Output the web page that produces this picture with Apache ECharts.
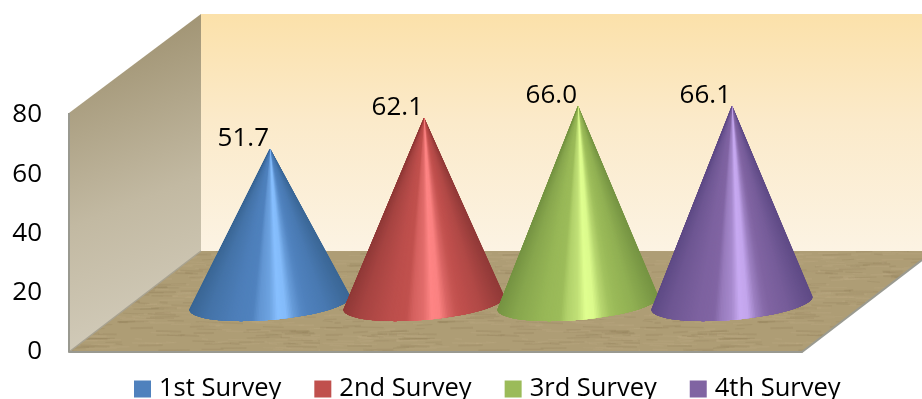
<!DOCTYPE html>
<html>
<head>
<meta charset="utf-8">
<style>html,body{margin:0;padding:0;background:#fff}#chart{width:922px;height:399px}</style>
<script src="https://cdn.jsdelivr.net/npm/echarts@6/dist/echarts.min.js"></script>
</head>
<body>
<div id="chart"></div>
<script>
// Survey results
const categories = ['1st Survey', '2nd Survey', '3rd Survey', '4th Survey'];
const surveyValues = [51.7, 62.1, 66.0, 66.1];
const yTicks = { min: 0, max: 80, interval: 20 };

// Cone shading per survey: shadow, body, highlight
const baseColors = ['#4f81bd', '#c0504d', '#9bbb59', '#8064a2'];
const shadowColors = ['#3b6796', '#913a38', '#769443', '#5f4b86'];
const highlightColors = ['#88c0ff', '#ff8585', '#e0ff90', '#c8aaf2'];

const FONT = '"Open Sans", sans-serif';

function hex(c) {
  return [1, 3, 5].map(i => parseInt(c.substr(i, 2), 16));
}
function mix(a, b, t) {
  const p = hex(a), q = hex(b);
  return 'rgb(' + p.map((v, i) => Math.round(v + (q[i] - v) * t)).join(',') + ')';
}

// Brightness profile across the cone, -1 = shadow, 0 = body, 1 = highlight
const shadeStops = [
  [0, -1], [0.1, -0.55], [0.28, -0.1], [0.39, 0.03], [0.43, 0.32], [0.5, 0.55],
  [0.55, 1], [0.6, 0.92], [0.65, 0.4], [0.7, 0.1], [0.85, -0.3], [1, -1]
];
function shadeAt(u, i) {
  let s = 0;
  for (let k = 1; k < shadeStops.length; k++) {
    const [u0, v0] = shadeStops[k - 1], [u1, v1] = shadeStops[k];
    if (u <= u1) { s = v0 + (v1 - v0) * (u - u0) / (u1 - u0); break; }
  }
  return s < 0 ? mix(baseColors[i], shadowColors[i], -s) : mix(baseColors[i], highlightColors[i], s);
}

// A cone is a fan of overlapping facets from the apex to the front half of a slanted base ellipse
function renderCone(params, api) {
  const i = api.value(0);
  const v = api.value(1);
  const apex = api.coord([i, v]);
  const base = api.coord([i, 0]);
  const band = api.size([1, 0])[0];
  const rx = band * 0.523, ry = band * 0.11, skew = band * 0.042;
  const steps = 150;
  const children = [];
  const point = t => [
    base[0] + rx * Math.cos(t),
    base[1] + ry * Math.sin(t) - skew * Math.cos(t)
  ];
  for (let n = 0; n < steps; n++) {
    const points = [apex];
    // each facet runs under its successor so no seams show
    for (let m = n; m <= Math.min(n + 6, steps); m++) points.push(point(Math.PI * m / steps));
    const x = point(Math.PI * (n + 0.5) / steps)[0];
    const u = (x - (base[0] - rx)) / (2 * rx);
    children.push({
      type: 'polygon',
      shape: { points },
      style: { fill: shadeAt(u, i) }
    });
  }
  children.push({
    type: 'text',
    style: {
      x: apex[0] - 1, y: apex[1] - 10,
      text: v.toFixed(1),
      fill: '#000', font: '26px ' + FONT,
      textAlign: 'right', textVerticalAlign: 'middle'
    }
  });
  return { type: 'group', children };
}

// Woven tan texture for the floor
function floorTexture() {
  const c = document.createElement('canvas');
  c.width = 320; c.height = 160;
  const g = c.getContext('2d');
  g.fillStyle = '#ae9d75';
  g.fillRect(0, 0, 320, 160);
  let seed = 17;
  const next = () => (seed = (seed * 16807) % 2147483647) / 2147483647;
  for (let n = 0; n < 900; n++) {
    const x = next() * 320, y = next() * 160, len = 6 + next() * 26;
    g.strokeStyle = next() > 0.5 ? 'rgba(196,180,140,0.16)' : 'rgba(130,112,76,0.16)';
    g.lineWidth = 1 + next();
    g.beginPath(); g.moveTo(x, y); g.lineTo(x + len, y + (next() - 0.5) * 2); g.stroke();
  }
  return c;
}

const chart = echarts.init(document.getElementById('chart'), null, { renderer: 'canvas' });

chart.setOption({
  animation: false,
  backgroundColor: '#fff',
  textStyle: { fontFamily: FONT },
  // Room behind the cones: back wall, side wall, floor and its edges
  graphic: [
    {
      type: 'polygon', z: 0, silent: true,
      shape: { points: [[201, 14], [922, 14], [922, 252], [201, 252]] },
      style: { fill: new echarts.graphic.LinearGradient(0, 0, 0, 1, [
        { offset: 0, color: '#fbe1aa' }, { offset: 0.45, color: '#fbeaca' }, { offset: 1, color: '#fcf3e3' }
      ]) }
    },
    {
      type: 'polygon', z: 0, silent: true,
      shape: { points: [[69, 113], [201, 14], [201, 251], [69, 352]] },
      style: { fill: new echarts.graphic.LinearGradient(0, 0, 1, 1, [
        { offset: 0, color: '#988a67' }, { offset: 0.55, color: '#c2b9a2' }, { offset: 1, color: '#d6d0c0' }
      ]) }
    },
    {
      type: 'polygon', z: 0, silent: true,
      shape: { points: [[69, 352], [201, 251], [922, 251], [922, 260], [802, 352]] },
      style: { fill: { image: floorTexture(), repeat: 'repeat' } }
    },
    {
      type: 'polyline', z: 0, silent: true,
      shape: { points: [[802, 352], [922, 260]] },
      style: { stroke: '#9a9a90', lineWidth: 2, fill: null }
    },
    {
      type: 'polyline', z: 0, silent: true,
      shape: { points: [[69, 352], [201, 251]] },
      style: { stroke: '#a8a290', lineWidth: 1.5, fill: null }
    },
    {
      type: 'polyline', z: 0, silent: true,
      shape: { points: [[69, 113], [69, 352]] },
      style: { stroke: '#999990', lineWidth: 2, fill: null }
    }
  ],
  legend: {
    data: categories,
    left: 129, top: 371,
    icon: 'rect', itemWidth: 17, itemHeight: 17, itemGap: 33,
    textStyle: { fontFamily: FONT, fontSize: 25.5, color: '#000', padding: [0, 0, 0, 3] }
  },
  grid: [
    // Front plane carrying the value axis
    { left: 69, top: 115, width: 733, height: 237 },
    // Mid-depth plane the cones stand on
    { left: 193, top: 64, width: 616, height: 239 }
  ],
  xAxis: [
    {
      gridIndex: 0, type: 'category', data: categories,
      axisLabel: { show: false }, axisTick: { show: false },
      axisLine: { lineStyle: { color: '#999990', width: 2 } }
    },
    {
      gridIndex: 1, type: 'category', data: categories, show: false
    }
  ],
  yAxis: [
    {
      gridIndex: 0, type: 'value', min: yTicks.min, max: yTicks.max, interval: yTicks.interval,
      splitLine: { show: false }, axisTick: { show: false },
      axisLine: { show: false },
      axisLabel: { fontFamily: FONT, fontSize: 26, color: '#000', margin: 27 }
    },
    {
      gridIndex: 1, type: 'value', min: yTicks.min, max: yTicks.max, interval: yTicks.interval, show: false
    }
  ],
  series: categories.map((name, i) => ({
    name,
    type: 'custom',
    xAxisIndex: 1, yAxisIndex: 1,
    z: 2 + i,
    clip: false,
    itemStyle: { color: baseColors[i] },
    encode: { x: 0, y: 1 },
    data: [[i, surveyValues[i]]],
    renderItem: renderCone
  }))
});
</script>
</body>
</html>
